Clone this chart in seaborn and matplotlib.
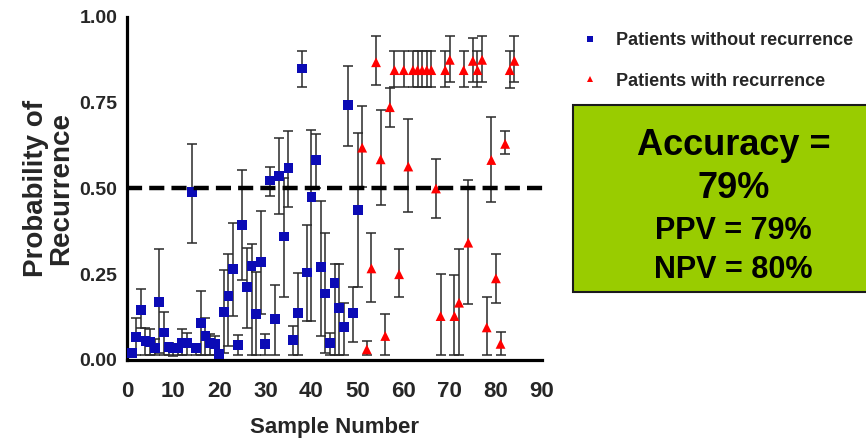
import numpy as np
import pandas as pd
import matplotlib
matplotlib.use("Agg")
import matplotlib.pyplot as plt
import seaborn as sns
from matplotlib.patches import Rectangle

# ---------------- data ----------------
no_rec_sample = list(range(1, 51))
no_rec_prob = [0.021, 0.068, 0.146, 0.055, 0.053, 0.036, 0.170, 0.080, 0.039, 0.034,
               0.034, 0.050, 0.049, 0.490, 0.034, 0.109, 0.071, 0.049, 0.047, 0.017,
               0.140, 0.187, 0.265, 0.044, 0.394, 0.212, 0.275, 0.135, 0.286, 0.046,
               0.523, 0.119, 0.537, 0.360, 0.560, 0.058, 0.138, 0.850, 0.255, 0.475,
               0.582, 0.270, 0.194, 0.049, 0.225, 0.152, 0.095, 0.743, 0.138, 0.437]
no_rec_low = [0.015, 0.015, 0.092, 0.015, 0.015, 0.015, 0.020, 0.015, 0.015, 0.012,
              0.015, 0.015, 0.015, 0.340, 0.015, 0.015, 0.015, 0.015, 0.015, 0.010,
              0.020, 0.040, 0.128, 0.015, 0.233, 0.093, 0.015, 0.015, 0.135, 0.015,
              0.478, 0.015, 0.426, 0.185, 0.447, 0.015, 0.015, 0.797, 0.113, 0.113,
              0.500, 0.070, 0.020, 0.015, 0.015, 0.015, 0.015, 0.625, 0.053, 0.214]
no_rec_high = [0.030, 0.123, 0.207, 0.092, 0.089, 0.060, 0.323, 0.140, 0.050, 0.045,
               0.045, 0.090, 0.080, 0.630, 0.045, 0.200, 0.123, 0.076, 0.070, 0.025,
               0.262, 0.308, 0.400, 0.073, 0.554, 0.326, 0.338, 0.256, 0.434, 0.076,
               0.563, 0.219, 0.646, 0.530, 0.668, 0.099, 0.255, 0.900, 0.394, 0.670,
               0.658, 0.464, 0.370, 0.078, 0.280, 0.280, 0.166, 0.858, 0.214, 0.661]

rec_sample = list(range(51, 85))
rec_prob = [0.619, 0.031, 0.267, 0.868, 0.585, 0.070, 0.737, 0.845, 0.250, 0.845,
            0.564, 0.845, 0.845, 0.845, 0.845, 0.845, 0.500, 0.128, 0.845, 0.875,
            0.128, 0.167, 0.845, 0.342, 0.872, 0.845, 0.875, 0.095, 0.583, 0.238,
            0.047, 0.630, 0.845, 0.872]
rec_low = [0.503, 0.015, 0.169, 0.803, 0.452, 0.015, 0.680, 0.795, 0.183, 0.795,
           0.430, 0.795, 0.795, 0.795, 0.795, 0.795, 0.413, 0.015, 0.795, 0.810,
           0.015, 0.015, 0.795, 0.163, 0.810, 0.795, 0.810, 0.015, 0.462, 0.167,
           0.015, 0.600, 0.793, 0.810]
rec_high = [0.740, 0.056, 0.371, 0.945, 0.729, 0.134, 0.794, 0.900, 0.323, 0.900,
            0.702, 0.900, 0.900, 0.900, 0.900, 0.900, 0.585, 0.250, 0.900, 0.945,
            0.248, 0.323, 0.900, 0.525, 0.940, 0.900, 0.945, 0.185, 0.708, 0.309,
            0.083, 0.668, 0.900, 0.945]

group_labels = ["Patients without recurrence", "Patients with recurrence"]
threshold = 0.5
x_ticks = [0, 10, 20, 30, 40, 50, 60, 70, 80, 90]
y_ticks = [0.00, 0.25, 0.50, 0.75, 1.00]
y_tick_labels = ["0.00", "0.25", "0.50", "0.75", "1.00"]
box_lines = ["Accuracy =", "79%", "PPV = 79%", "NPV = 80%"]

df = pd.DataFrame({
    "sample": no_rec_sample + rec_sample,
    "prob": no_rec_prob + rec_prob,
    "low": no_rec_low + rec_low,
    "high": no_rec_high + rec_high,
    "group": [group_labels[0]] * len(no_rec_sample) + [group_labels[1]] * len(rec_sample),
})

# ---------------- style ----------------
sns.set_style("white")
plt.rcParams["font.family"] = ["Liberation Sans", "DejaVu Sans"]
plt.rcParams["font.weight"] = "bold"

fig = plt.figure(figsize=(8.66, 4.43), dpi=100)
ax = fig.add_axes([0.1467, 0.1874, 0.4792, 0.7743])

# error bars
ax.errorbar(df["sample"], df["prob"],
            yerr=[df["prob"] - df["low"], df["high"] - df["prob"]],
            fmt="none", ecolor="#2a2a2a", elinewidth=1.1, capsize=3.4,
            capthick=1.1, zorder=2)

palette = {group_labels[0]: "#0b0bb5", group_labels[1]: "#ff0000"}
markers = {group_labels[0]: "s", group_labels[1]: "^"}
sns.scatterplot(data=df, x="sample", y="prob", hue="group", style="group",
                palette=palette, markers=markers, s=50, edgecolor="none",
                linewidth=0, ax=ax, zorder=3, legend=True)

# threshold line
ax.plot([0, 91.5], [threshold, threshold], color="black", lw=3.2,
        ls=(0, (3.4, 1.6)), clip_on=False, zorder=4)

ax.set_xlim(0, 90)
ax.set_ylim(0, 1.0)
ax.set_xticks(x_ticks)
ax.set_xticklabels([str(t) for t in x_ticks], fontsize=16, fontweight="bold")
ax.set_yticks(y_ticks)
ax.set_yticklabels(y_tick_labels, fontsize=14, fontweight="bold")

for side in ["top", "right"]:
    ax.spines[side].set_visible(False)
for side in ["left", "bottom"]:
    ax.spines[side].set_linewidth(2.3)
    ax.spines[side].set_color("black")
ax.tick_params(axis="both", direction="out", length=7, width=2.3, color="black")
ax.tick_params(axis="y", pad=0)
ax.tick_params(axis="x", pad=8)

ax.set_xlabel("Sample Number", fontsize=16, fontweight="bold", labelpad=11)
ax.set_ylabel("Probability of\nRecurrence", fontsize=20, fontweight="bold",
              linespacing=0.95, labelpad=4)

# legend
handles, labels = ax.get_legend_handles_labels()
leg = ax.legend(handles, labels, loc="upper left",
                bbox_to_anchor=(0.671, 0.927), bbox_transform=fig.transFigure,
                frameon=False, markerscale=0.7,
                handletextpad=0.95, labelspacing=1.3, handlelength=1.0,
                borderaxespad=0, borderpad=0, prop={"weight": "bold", "size": 13})

# green box
fig.patches.append(Rectangle((0.6617, 0.3409), 0.36, 0.4222,
                             transform=fig.transFigure, facecolor="#99cc00",
                             edgecolor="#1a1a1a", linewidth=1.5, zorder=0))
box_y = [0.672, 0.575, 0.478, 0.390]
box_sizes = [26, 26, 22, 22]
for txt, yy, fs in zip(box_lines, box_y, box_sizes):
    fig.text(0.847, yy, txt, ha="center", va="center", fontsize=fs,
             fontweight="bold", color="black")

fig.savefig("out.png", dpi=100)
